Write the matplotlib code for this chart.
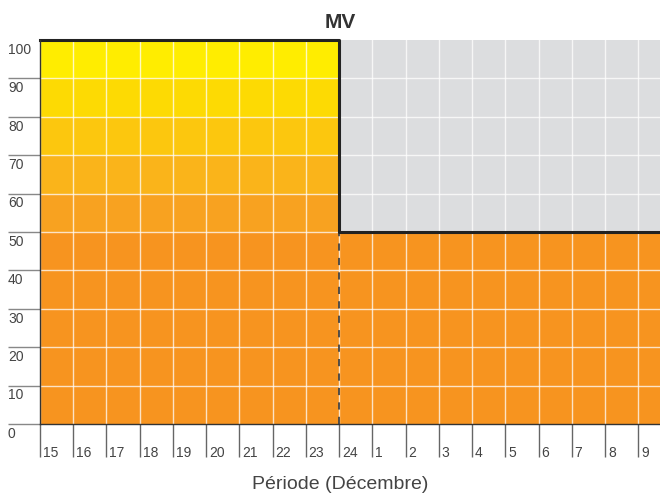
import matplotlib.pyplot as plt

plt.rcParams['font.family'] = ['Liberation Sans', 'DejaVu Sans']

# days of the period (December), and MV value per day
days = ["15", "16", "17", "18", "19", "20", "21", "22", "23", "24",
        "1", "2", "3", "4", "5", "6", "7", "8", "9"]
mv = [100, 100, 100, 100, 100, 100, 100, 100, 100,
      50, 50, 50, 50, 50, 50, 50, 50, 50, 50]
y_ticks = [0, 10, 20, 30, 40, 50, 60, 70, 80, 90, 100]

# band colours from top (90-100) down to 50-60, orange below 50
band_colors = ["#FFED00", "#FDDA03", "#FCC70E", "#FAB41A", "#F8A220"]
orange = "#F7941F"
grey = "#DCDDDF"
text_col = "#444444"

x_end = 18.65

fig = plt.figure(figsize=(6.6, 4.97), dpi=100)
ax = fig.add_axes([40 / 660, 1 - 424 / 497, 620 / 660, 384 / 497])
ax.set_facecolor(grey)

xs = list(range(len(days))) + [x_end]
vals = mv + [mv[-1]]

for lo in range(0, 100, 10):
    hi = lo + 10
    if hi <= 50:
        col = orange
    else:
        col = band_colors[(100 - hi) // 10]
    top = [min(max(v, lo), hi) for v in vals]
    ax.fill_between(xs, lo, top, step="post", color=col, lw=0, zorder=1)

# white grid
for i in range(len(days)):
    ax.axvline(i, color="white", lw=1, alpha=0.75, zorder=2)
for v in y_ticks[1:-1]:
    ax.axhline(v, color="white", lw=1, alpha=0.75, zorder=2)

# dashed marker at the switch below the step
switch = mv.index(50)
ax.vlines(switch, 0, 50, color="#444444", lw=1.3, linestyles=(0, (4, 4)), zorder=3)

# step outline
ax.step(xs, vals, where="post", color="#222222", lw=2.2, zorder=4, clip_on=False)

ax.set_xlim(0, x_end)
ax.set_ylim(0, 100)

for s in ["top", "right"]:
    ax.spines[s].set_visible(False)
for s in ["left", "bottom"]:
    ax.spines[s].set_color("#333333")
    ax.spines[s].set_linewidth(1)
    ax.spines[s].set_zorder(5)

ax.set_xticks(range(len(days)))
ax.set_yticks(y_ticks[:-1])
ax.set_xticklabels([])
ax.set_yticklabels([])
ax.tick_params(axis="x", length=24, width=1, color="#666666", direction="out")
ax.tick_params(axis="y", length=23, width=1, color="#888888", direction="out")

ytr = ax.get_yaxis_transform()
for v in y_ticks:
    ax.annotate(str(v), xy=(-32 / 620, v), xycoords=ytr, xytext=(0, -2),
                textcoords="offset points", ha="left", va="top",
                fontsize=10, color=text_col, annotation_clip=False)

xtr = ax.get_xaxis_transform()
for i, d in enumerate(days):
    ax.annotate(d, xy=(i, 0), xycoords=xtr, xytext=(2, -23.5),
                textcoords="offset points", ha="left", va="baseline",
                fontsize=10, color=text_col, annotation_clip=False)

fig.text(340 / 660, 1 - 28 / 497, "MV", ha="center", va="baseline",
         fontsize=15, fontweight="bold", color="#333333")
fig.text(340 / 660, 1 - 489 / 497, "Période (Décembre)", ha="center",
         va="baseline", fontsize=14, color=text_col)

fig.savefig("out.png", dpi=100)
